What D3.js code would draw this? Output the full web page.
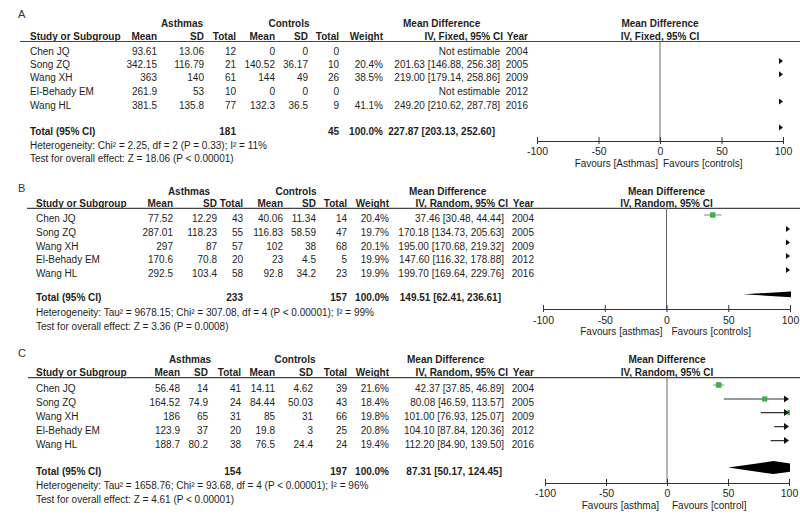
<!DOCTYPE html>
<html><head><meta charset="utf-8">
<script src="https://cdn.jsdelivr.net/npm/d3@7"></script>
<style>
body{margin:0;background:#fff;}
svg{display:block;font-family:"Liberation Sans",Arial,sans-serif;}
</style></head>
<body><svg id="c" width="800" height="518"></svg>
<script>
// ---------- DATA ----------
const studies = ["Chen JQ","Song ZQ","Wang XH","El-Behady EM","Wang HL"];
const years = [2004,2005,2009,2012,2016];
const tickValues = [-100,-50,0,50,100];

// Panel A
const A_expMean = [93.61,342.15,363,261.9,381.5];
const A_expSD = [13.06,116.79,140,53,135.8];
const A_expN = [12,21,61,10,77];
const A_ctlMean = [0,140.52,144,0,132.3];
const A_ctlSD = [0,36.17,49,0,36.5];
const A_ctlN = [0,10,26,0,9];
const A_weight = [null,20.4,38.5,null,41.1];
const A_md = [null,201.63,219.00,null,249.20];
const A_lo = [null,146.88,179.14,null,210.62];
const A_hi = [null,256.38,258.86,null,287.78];
const A_total = {expN:181, ctlN:45, weight:100.0, md:227.87, lo:203.13, hi:252.60};
const A_het = "Heterogeneity: Chi² = 2.25, df = 2 (P = 0.33); I² = 11%";
const A_test = "Test for overall effect: Z = 18.06 (P < 0.00001)";
const A_fav = ["Favours [Asthmas]","Favours [controls]"];

// Panel B
const B_expMean = [77.52,287.01,297,170.6,292.5];
const B_expSD = [12.29,118.23,87,70.8,103.4];
const B_expN = [43,55,57,20,58];
const B_ctlMean = [40.06,116.83,102,23,92.8];
const B_ctlSD = [11.34,58.59,38,4.5,34.2];
const B_ctlN = [14,47,68,5,23];
const B_weight = [20.4,19.7,20.1,19.9,19.9];
const B_md = [37.46,170.18,195.00,147.60,199.70];
const B_lo = [30.48,134.73,170.68,116.32,169.64];
const B_hi = [44.44,205.63,219.32,178.88,229.76];
const B_total = {expN:233, ctlN:157, weight:100.0, md:149.51, lo:62.41, hi:236.61};
const B_het = "Heterogeneity: Tau² = 9678.15; Chi² = 307.08, df = 4 (P < 0.00001); I² = 99%";
const B_test = "Test for overall effect: Z = 3.36 (P = 0.0008)";
const B_fav = ["Favours [asthmas]","Favours [controls]"];

// Panel C
const C_expMean = [56.48,164.52,186,123.9,188.7];
const C_expSD = [14,74.9,65,37,80.2];
const C_expN = [41,24,31,20,38];
const C_ctlMean = [14.11,84.44,85,19.8,76.5];
const C_ctlSD = [4.62,50.03,31,3,24.4];
const C_ctlN = [39,43,66,25,24];
const C_weight = [21.6,18.4,19.8,20.8,19.4];
const C_md = [42.37,80.08,101.00,104.10,112.20];
const C_lo = [37.85,46.59,76.93,87.84,84.90];
const C_hi = [46.89,113.57,125.07,120.36,139.50];
const C_total = {expN:154, ctlN:197, weight:100.0, md:87.31, lo:50.17, hi:124.45};
const C_het = "Heterogeneity: Tau² = 1658.76; Chi² = 93.68, df = 4 (P < 0.00001); I² = 96%";
const C_test = "Test for overall effect: Z = 4.61 (P < 0.00001)";
const C_fav = ["Favours [asthma]","Favours [control]"];

// ---------- LAYOUT ----------
const panels = [
 {letter:"A", method:"IV, Fixed, 95% CI",
  d:{expMean:A_expMean,expSD:A_expSD,expN:A_expN,ctlMean:A_ctlMean,ctlSD:A_ctlSD,ctlN:A_ctlN,weight:A_weight,md:A_md,lo:A_lo,hi:A_hi,total:A_total,het:A_het,test:A_test,fav:A_fav},
  studyX:30, cols:[157,204,236,275,308,339,383], ciR:500, totCiR:495, yearR:528,
  mdHdrX:403, methodR:503, asthX:182, ctlX:289, lineX:20,
  axisX:[537,783], letterY:17.5, grpY:27, hdrY:39.5, lineY:41.5,
  rows:[54.6,68,81.3,94.6,108.6], totY:134.6, hetY:149, testY:162,
  axisY:141, tickY:155, favY:167, favOff:[2,3]},
 {letter:"B", method:"IV, Random, 95% CI",
  d:{expMean:B_expMean,expSD:B_expSD,expN:B_expN,ctlMean:B_ctlMean,ctlSD:B_ctlSD,ctlN:B_ctlN,weight:B_weight,md:B_md,lo:B_lo,hi:B_hi,total:B_total,het:B_het,test:B_test,fav:B_fav},
  studyX:36, cols:[173,217,243,283,316,347,389], ciR:504, totCiR:501, yearR:534,
  mdHdrX:409, methodR:508, asthX:189, ctlX:296, lineX:27,
  axisX:[543,790], letterY:191.6, grpY:194.6, hdrY:206.5, lineY:208.3,
  rows:[222,236,249.6,263,277], totY:301.3, hetY:316.3, testY:329.6,
  axisY:309, tickY:323.6, favY:335.3, favOff:[4,5]},
 {letter:"C", method:"IV, Random, 95% CI",
  d:{expMean:C_expMean,expSD:C_expSD,expN:C_expN,ctlMean:C_ctlMean,ctlSD:C_ctlSD,ctlN:C_ctlN,weight:C_weight,md:C_md,lo:C_lo,hi:C_hi,total:C_total,het:C_het,test:C_test,fav:C_fav},
  studyX:36, cols:[180,208,241,275,313,347,389], ciR:504, totCiR:502, yearR:534,
  mdHdrX:407, methodR:508, asthX:190, ctlX:295, lineX:28,
  axisX:[545,789], letterY:357, grpY:362.6, hdrY:375.5, lineY:377.6,
  rows:[392,406,419.6,433.6,447.6], totY:474.6, hetY:489.3, testY:503,
  axisY:483, tickY:497, favY:508.6, favOff:[8,5]}
];

const TXT = "#1e1e1e";
const svg = d3.select("#c");
const sizeScale = d3.scaleSqrt().domain([0,100]).range([0,12]);
const f2 = v => v.toFixed(2);
const ciStr = (m,l,h) => `${f2(m)} [${f2(l)}, ${f2(h)}]`;

panels.forEach((p,pi) => {
  const g = svg.append("g");
  const d = p.d;
  const text = (x,y,s,anchor="start",bold=false) =>
    g.append("text").attr("x",x).attr("y",y).attr("text-anchor",anchor)
     .attr("font-size",10).attr("font-weight",bold?"bold":"normal").attr("fill",TXT).text(s);

  // panel letter
  g.append("text").attr("x",18).attr("y",p.letterY).attr("font-size",11).attr("fill","#333").text(p.letter);

  // group headers
  text(p.asthX,p.grpY,"Asthmas","middle",true);
  text(p.ctlX,p.grpY,"Controls","middle",true);
  text(p.mdHdrX,p.grpY,"Mean Difference","start",true);

  // column headers
  text(p.studyX,p.hdrY,"Study or Subgroup","start",true);
  const hdrs = ["Mean","SD","Total","Mean","SD","Total","Weight"];
  hdrs.forEach((h,i)=>text(p.cols[i],p.hdrY,h,"end",true));
  text(p.methodR,p.hdrY,p.method,"end",true);
  text(p.yearR,p.hdrY,"Year","end",true);

  // forest scale
  const x = d3.scaleLinear().domain([-100,100]).range(p.axisX);
  const x0 = x(0);
  text(x0,p.grpY,"Mean Difference","middle",true);
  text(x0,p.hdrY,p.method,"middle",true);

  // header rule
  g.append("line").attr("x1",p.lineX).attr("x2",800).attr("y1",p.lineY).attr("y2",p.lineY)
   .attr("stroke","#444").attr("stroke-width",1.2);

  // rows
  studies.forEach((s,i)=>{
    const y = p.rows[i];
    text(p.studyX,y,s);
    const vals = [d.expMean[i],d.expSD[i],d.expN[i],d.ctlMean[i],d.ctlSD[i],d.ctlN[i]];
    vals.forEach((v,j)=>text(p.cols[j],y,String(v),"end"));
    if (d.weight[i]!=null) text(p.cols[6],y,d.weight[i].toFixed(1)+"%","end");
    text(p.ciR,y,d.md[i]==null?"Not estimable":ciStr(d.md[i],d.lo[i],d.hi[i]),"end");
    text(p.yearR,y,String(years[i]),"end");
  });

  // total
  text(p.studyX,p.totY,"Total (95% CI)","start",true);
  text(p.cols[2],p.totY,String(d.total.expN),"end",true);
  text(p.cols[5],p.totY,String(d.total.ctlN),"end",true);
  text(p.cols[6],p.totY,d.total.weight.toFixed(1)+"%","end",true);
  text(p.totCiR,p.totY,ciStr(d.total.md,d.total.lo,d.total.hi),"end",true);
  text(p.studyX,p.hetY,d.het);
  text(p.studyX,p.testY,d.test);

  // zero line
  g.append("line").attr("x1",x0).attr("x2",x0).attr("y1",p.lineY).attr("y2",p.axisY)
   .attr("stroke","#666").attr("stroke-width",1);

  // axis
  const ax = g.append("g").attr("transform",`translate(0,${p.axisY})`)
    .call(d3.axisBottom(x).tickValues(tickValues).tickSizeOuter(0).tickSize(3).tickFormat(v=>String(v)));
  ax.select(".domain").attr("stroke","#333");
  ax.selectAll(".tick line").attr("y1",-4).attr("y2",3).attr("stroke","#333");
  ax.selectAll(".tick text").attr("y",p.tickY-p.axisY).attr("dy",0)
    .attr("font-size",10.5).attr("font-family","Liberation Sans, Arial, sans-serif").attr("fill",TXT);
  text(x0-p.favOff[0],p.favY,d.fav[0],"end");
  text(x0+p.favOff[1],p.favY,d.fav[1],"start");

  // clip
  const cid = "clip"+pi;
  g.append("clipPath").attr("id",cid).append("rect")
   .attr("x",x(-100)-1).attr("y",p.lineY).attr("width",x(100)-x(-100)+2).attr("height",p.axisY-p.lineY);
  const pg = g.append("g").attr("clip-path",`url(#${cid})`);
  const xMax = x(100);

  const edgeArrow = (yy) => pg.append("path")
     .attr("d",`M${xMax-4},${yy-3}L${xMax},${yy}L${xMax-4},${yy+3}Z`).attr("fill","#111");

  studies.forEach((s,i)=>{
    if (d.md[i]==null) return;
    const yy = p.rows[i]-7;
    if (d.lo[i] > 100) { edgeArrow(yy); return; }
    const x1 = x(Math.max(d.lo[i],-100)), x2 = x(Math.min(d.hi[i],100));
    const over = d.hi[i] > 100;
    pg.append("line").attr("x1",x1).attr("x2",over?x2-3:x2).attr("y1",yy).attr("y2",yy)
      .attr("stroke", over?"#333":"#888").attr("stroke-width",1.2);
    const sz = sizeScale(d.weight[i]);
    pg.append("rect").attr("x",x(d.md[i])-sz/2).attr("y",yy-sz/2).attr("width",sz).attr("height",sz)
      .attr("fill","#3cb04a");
    if (over) pg.append("path").attr("d",`M${xMax-5},${yy-3.5}L${xMax},${yy}L${xMax-5},${yy+3.5}Z`).attr("fill","#111");
  });

  // total marker
  const ty = p.totY-7, t = d.total;
  if (t.lo > 100) edgeArrow(ty);
  else {
    const h = 6.5;
    pg.append("path")
      .attr("d",`M${x(t.lo)},${ty}L${x(t.md)},${ty-h}L${x(t.hi)},${ty}L${x(t.md)},${ty+h}Z`)
      .attr("fill","#000");
  }
});
</script>
</body></html>
